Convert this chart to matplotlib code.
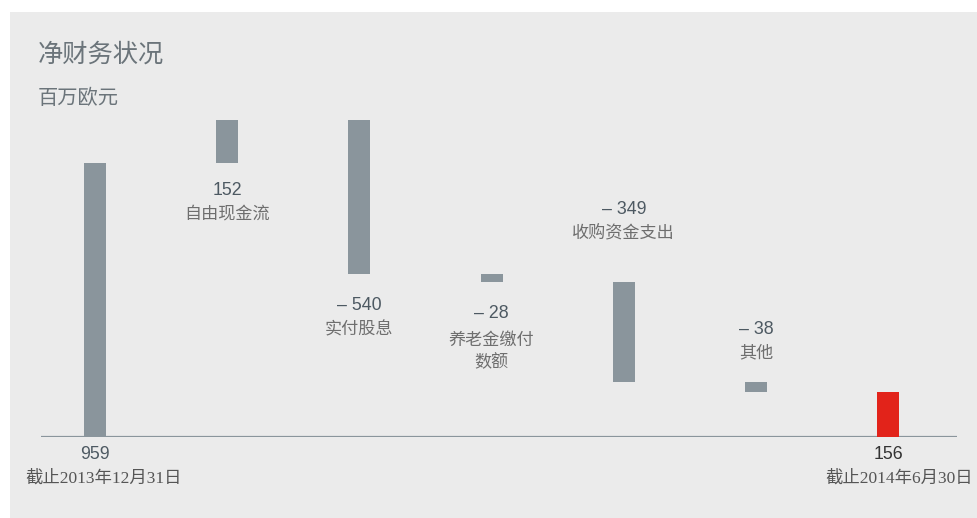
import numpy as np
import matplotlib
matplotlib.use('Agg')
import matplotlib.pyplot as plt
from matplotlib.patches import Rectangle

plt.rcParams['font.family'] = ['Liberation Sans', 'Noto Sans CJK SC', 'DejaVu Sans']

# data (million EUR)
start_value = 959
steps = [152, -540, -28, -349, -38]
end_value = 156
step_labels = ['自由现金流', '实付股息', '养老金缴付\n数额', '收购资金支出', '其他']
start_label = '截止2013年12月31日'
end_label = '截止2014年6月30日'

GREY = '#8a959c'
RED = '#e2231a'
NUM_COLOR = '#4d5962'
CAT_COLOR = '#6e6e6e'
BG = '#ebebeb'

# label offsets in points: (number, category) measured from bar edge
offsets = [(-19.5, -36.5), (-23, -40), (-23, -49.5), (52.5, 35.5), (37.5, 21.2)]

fig = plt.figure(figsize=(9.78, 5.18), dpi=100)
fig.patch.set_facecolor('white')
fig.patches.append(Rectangle((10 / 978, 0), 1, 1 - 12 / 518, transform=fig.transFigure,
                             facecolor=BG, edgecolor='none', zorder=-10))

ax = fig.add_axes([41 / 978, 81 / 518, 916 / 978, 337 / 518])
ax.set_facecolor('none')
ax.set_xlim(-0.408, 6.52)
ax.set_ylim(0, 1180)
for s in ax.spines.values():
    s.set_visible(False)
ax.set_xticks([])
ax.set_yticks([])
ax.axhline(0, color=GREY, lw=1.6, zorder=1)

width = 0.166
ax.bar(0, start_value, width=width, color=GREY, zorder=2)

level = start_value
for i, (step, label) in enumerate(zip(steps, step_labels), start=1):
    lo, hi = sorted([level, level + step])
    ax.bar(i, hi - lo, bottom=lo, width=width, color=GREY, zorder=2)
    num_off, cat_off = offsets[i - 1]
    anchor = lo if num_off < 0 else hi
    txt = f'{step}' if step > 0 else f'\u2013 {abs(step)}'
    ax.annotate(txt, (i, anchor), xytext=(0, num_off), textcoords='offset points',
                ha='center', va='center', fontsize=12.8, color=NUM_COLOR)
    ax.annotate(label, (i, anchor), xytext=(0, cat_off), textcoords='offset points',
                ha='center', va='center', fontsize=12.3,
                color=CAT_COLOR, linespacing=1.32,
                family=['Noto Sans CJK SC', 'DejaVu Sans'])
    level += step

ax.bar(6, end_value, width=width, color=RED, zorder=2)

for x, val, lab, col in [(0, start_value, start_label, NUM_COLOR), (6, end_value, end_label, '#333333')]:
    ax.annotate(f'{val}', (x, 0), xytext=(0, -12.8), textcoords='offset points',
                ha='center', va='center', fontsize=12.8, color=col)
    ax.annotate(lab, (x, 0), xytext=(6 if x == 0 else 8, -29.5), textcoords='offset points',
                ha='center', va='center', fontsize=12.5, color='#555555',
                family=['Liberation Serif', 'Noto Sans CJK SC'])

fig.text(38 / 978, 1 - 55 / 518, '净财务状况', fontsize=18.2, color='#6b747a',
         va='center', ha='left', family=['Noto Sans CJK SC'])
fig.text(38 / 978, 1 - 98 / 518, '百万欧元', fontsize=14.6, color='#6b747a',
         va='center', ha='left', family=['Noto Sans CJK SC'])

fig.savefig('out.png', dpi=100, facecolor=fig.get_facecolor())
